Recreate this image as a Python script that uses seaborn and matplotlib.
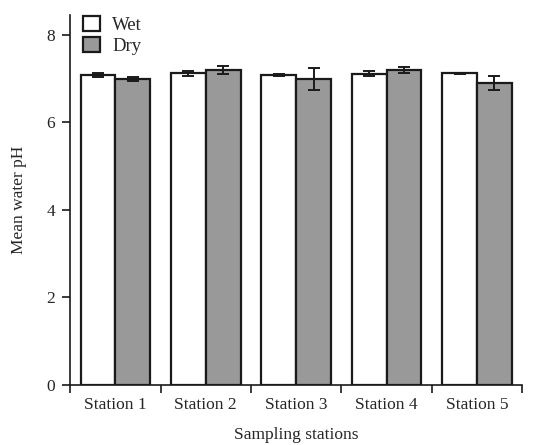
import numpy as np
import pandas as pd
import matplotlib
matplotlib.use("Agg")
import matplotlib.pyplot as plt
import seaborn as sns

stations = ["Station 1", "Station 2", "Station 3", "Station 4", "Station 5"]
wet_mean = [7.08, 7.12, 7.08, 7.11, 7.12]
wet_err = [0.04, 0.06, 0.02, 0.06, 0.01]
dry_mean = [6.99, 7.20, 6.99, 7.19, 6.90]
dry_err = [0.05, 0.09, 0.25, 0.07, 0.16]

df = pd.DataFrame({
    "station": stations * 2,
    "season": ["Wet"] * 5 + ["Dry"] * 5,
    "ph": wet_mean + dry_mean,
})

sns.set_style("ticks")
plt.rcParams["font.family"] = ["Liberation Serif", "DejaVu Serif"]

fig = plt.figure(figsize=(5.44, 4.45), dpi=100)
ax = fig.add_axes([0.129, 0.135, 0.831, 0.831])

sns.barplot(data=df, x="station", y="ph", hue="season",
            palette={"Wet": "white", "Dry": "#999999"},
            edgecolor="#1a1a1a", linewidth=1.6, width=0.77,
            errorbar=None, ax=ax)

# error bars at bar centres
for cont, errs in zip(ax.containers, [wet_err, dry_err]):
    xs = [b.get_x() + b.get_width() / 2 for b in cont]
    ys = [b.get_height() for b in cont]
    ax.errorbar(xs, ys, yerr=errs, fmt="none", ecolor="#1a1a1a",
                elinewidth=1.4, capsize=4.5, capthick=1.4)

ax.set_xlim(-0.5, 4.5)
ax.set_ylim(0, 8.45)
ax.set_yticks([0, 2, 4, 6, 8])
ax.tick_params(axis="y", labelsize=12.5, length=6, width=1.2, color="#1a1a1a", pad=5)

# ticks between stations, labels centred
ax.set_xticks(np.arange(-0.5, 5, 1))
ax.set_xticklabels([])
ax.set_xticks(range(5), minor=True)
ax.set_xticklabels(stations, minor=True, fontsize=12.5)
ax.tick_params(axis="x", which="major", length=6, width=1.2, color="#1a1a1a")
ax.tick_params(axis="x", which="minor", length=0, pad=9)

for s in ["left", "bottom"]:
    ax.spines[s].set_linewidth(1.2)
    ax.spines[s].set_color("#1a1a1a")
sns.despine(ax=ax)

ax.set_xlabel("Sampling stations", fontsize=12.5, labelpad=10)
ax.set_ylabel("Mean water pH", fontsize=12.5, labelpad=14)

ax.legend(loc="upper left", frameon=False, fontsize=13.5, handlelength=0.9,
          handleheight=0.9, handletextpad=0.64, labelspacing=0.15,
          bbox_to_anchor=(13 / 452, 0.998), borderaxespad=0, borderpad=0)

fig.savefig("out.png", dpi=100)
